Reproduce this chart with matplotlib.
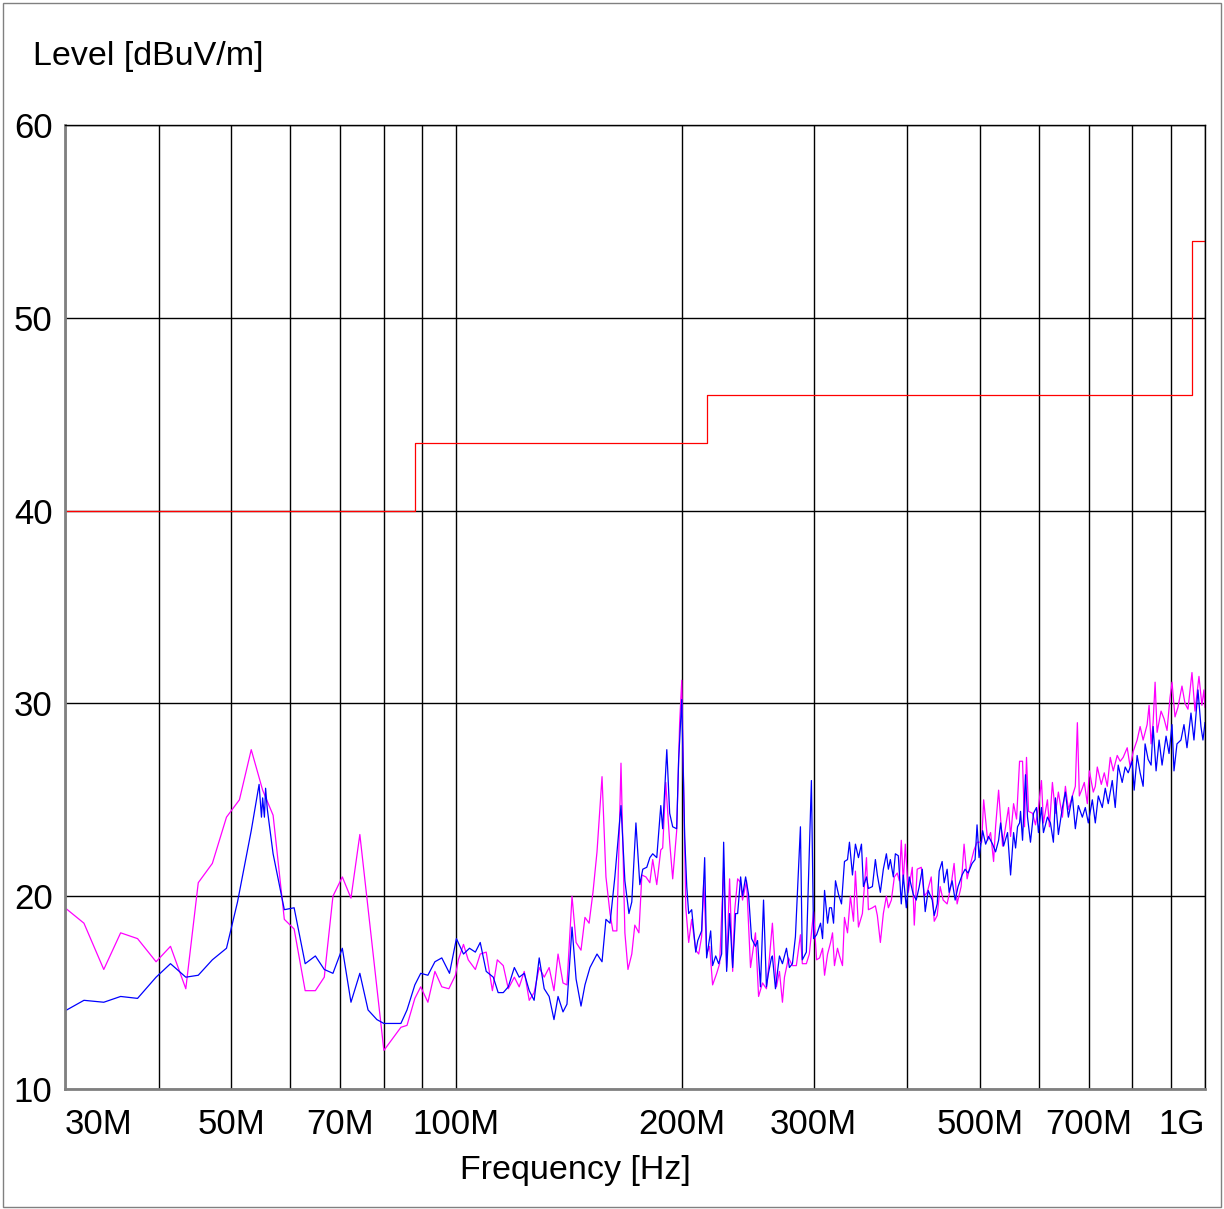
import matplotlib
matplotlib.use("Agg")
import matplotlib.pyplot as plt
from matplotlib.patches import Rectangle
import numpy as np

plt.rcParams["font.family"] = ["Liberation Sans", "DejaVu Sans"]

# limit line (dBuV/m), steps at 88 / 216 / 960 MHz
limit_freq = [30, 88, 216, 960, 1000]
limit_level = [40, 43.5, 46, 54, 54]

# blue trace
blue_freq = [
    30.0, 31.8, 33.8, 35.6, 37.5, 39.7, 41.5, 43.5, 45.2, 47.2, 49.3, 51.0, 53.2, 54.5,
    54.9, 55.1, 55.4, 55.6, 55.9, 56.9, 58.9, 60.7, 62.8, 64.8, 66.6, 68.4, 70.4, 72.3,
    74.3, 76.2, 78.3, 80.0, 82.0, 84.3, 85.9, 88.0, 89.6, 91.6, 93.6, 95.6, 97.9, 100.0,
    102.2, 104.1, 106.0, 107.6, 109.6, 112.0, 113.7, 115.5, 117.3, 119.5, 121.3, 123.2,
    125.1, 127.0, 129.0, 131.0, 133.0, 135.0, 136.7, 138.8, 140.5, 142.7, 144.5, 146.7,
    148.5, 150.8, 154.1, 156.5, 158.4, 160.4, 162.8, 165.9, 167.9, 170.0, 171.5, 173.7,
    175.8, 177.4, 179.6, 181.3, 182.9, 185.2, 187.5, 188.6, 191.0, 192.7, 194.5, 196.9,
    198.1, 200.0, 201.8, 203.1, 204.3, 206.2, 208.8, 210.1, 212.6, 214.6, 215.9, 218.6,
    219.9, 222.0, 224.0, 226.1, 227.5, 229.6, 231.7, 233.9, 236.0, 237.5, 239.7, 241.1,
    243.4, 245.6, 247.9, 250.9, 252.5, 254.8, 257.2, 259.5, 261.1, 263.5, 264.3, 266.8,
    270.1, 272.6, 276.0, 278.5, 281.1, 283.7, 288.1, 289.8, 293.4, 298.0, 300.0, 302.8,
    306.5, 308.4, 310.3, 313.2, 315.1, 317.0, 319.0, 320.9, 323.9, 326.9, 329.9, 333.0,
    335.0, 338.1, 341.2, 344.4, 347.6, 349.7, 353.0, 355.1, 359.5, 362.8, 365.0, 368.4,
    371.8, 375.3, 377.6, 379.9, 383.4, 385.8, 389.3, 392.9, 395.3, 399.0, 402.6, 407.6,
    411.4, 415.2, 419.1, 422.9, 426.8, 432.1, 434.8, 438.8, 441.5, 445.5, 448.3, 452.4,
    455.2, 459.4, 463.7, 467.9, 473.7, 478.1, 482.5, 488.5, 493.0, 496.0, 499.1, 504.6,
    509.3, 513.9, 520.3, 525.1, 530.0, 533.3, 538.2, 544.8, 549.9, 555.0, 558.4, 561.8,
    565.3, 567.0, 570.5, 575.7, 579.3, 584.6, 590.1, 595.5, 599.1, 604.7, 608.4, 615.9,
    621.6, 627.3, 631.2, 637.0, 644.9, 650.9, 656.9, 665.0, 671.1, 677.3, 685.7, 692.0,
    698.4, 707.1, 713.6, 720.2, 729.1, 735.8, 742.6, 751.8, 758.7, 765.7, 775.1, 782.3,
    789.6, 799.3, 804.2, 811.6, 819.1, 826.7, 831.7, 839.5, 847.2, 852.5, 860.3, 868.3,
    876.3, 887.1, 895.3, 903.5, 909.0, 917.4, 928.7, 937.4, 946.1, 957.8, 966.6, 978.6,
    987.6, 993.7, 1000.0,
]
blue_level = [
    14.05, 14.6, 14.5, 14.8, 14.7, 15.8, 16.5, 15.8, 15.9, 16.7, 17.3, 19.7, 23.4, 25.8,
    24.1, 25.1, 24.1, 25.6, 24.5, 22.2, 19.3, 19.4, 16.5, 16.9, 16.2, 16.0, 17.3, 14.5,
    16.0, 14.1, 13.6, 13.4, 13.4, 13.4, 14.1, 15.4, 16.0, 15.9, 16.6, 16.8, 16.0, 17.8,
    17.0, 17.3, 17.1, 17.6, 16.1, 15.8, 15.0, 15.0, 15.3, 16.3, 15.8, 16.0,
    15.1, 14.6, 16.8, 15.2, 14.8, 13.6, 14.8, 14.0, 14.4, 18.4, 15.7, 14.3,
    15.4, 16.3, 17.0, 16.6, 18.8, 18.6, 21.0, 24.7, 20.8, 19.1, 19.7, 23.8,
    20.6, 21.4, 21.5, 22.0, 22.2, 22.0, 24.7, 23.5, 27.6, 24.3, 23.6, 23.5,
    27.1, 30.2, 23.1, 20.5, 19.1, 19.3, 17.1, 17.7, 18.2, 22.0, 16.8, 18.2,
    16.4, 16.9, 16.5, 17.0, 22.8, 16.1, 19.1, 16.3, 19.1, 19.1, 21.0, 20.0,
    21.0, 20.1, 17.8, 17.4, 17.7, 15.3, 19.8, 15.3, 16.0, 16.8, 16.9, 15.2,
    16.9, 16.5, 17.3, 16.3, 16.5, 17.9, 23.6, 16.7, 17.1, 26.0, 17.8, 18.0,
    18.6, 17.8, 20.3, 18.6, 19.4, 19.4, 18.6, 20.8, 20.1, 19.6, 21.8, 21.9,
    22.8, 21.1, 22.7, 22.0, 22.7, 20.5, 21.0, 20.4, 20.5, 21.9, 21.1, 20.2,
    21.4, 22.2, 21.4, 21.9, 21.0, 22.2, 22.1, 19.6, 21.1, 19.4, 21.0, 20.1,
    19.8, 20.5, 21.4, 19.2, 20.3, 19.8, 19.0, 19.6, 21.3, 21.8, 20.7, 21.4,
    20.2, 20.8, 19.8, 20.5, 21.1, 21.4, 21.2, 21.7, 21.9, 23.7, 22.0, 23.4,
    22.7, 23.1, 22.7, 22.3, 22.9, 23.8, 22.6, 23.3, 21.1, 23.3, 22.5, 23.6,
    23.8, 24.4, 22.9, 26.3, 24.1, 22.8, 24.3, 24.6, 23.3, 24.6, 23.3, 24.1,
    23.8, 22.8, 25.1, 23.2, 24.6, 25.4, 24.1, 25.2, 23.5, 24.7, 24.1, 24.6,
    23.8, 25.0, 23.8, 25.2, 24.6, 25.6, 24.8, 26.0, 24.6, 26.8, 25.9, 26.7,
    26.4, 27.0, 25.5, 27.3, 26.4, 25.7, 27.9, 27.1, 26.8, 28.8, 26.5, 28.1,
    26.8, 28.3, 27.4, 28.9, 26.5, 27.9, 28.1, 28.9, 27.7, 29.5, 28.1, 30.7,
    28.8, 28.1, 29.0,
]

# magenta trace
magenta_freq = [
    30.0, 31.8, 33.8, 35.6, 37.5, 39.7, 41.5, 43.5, 45.2, 47.2, 49.3, 51.3, 53.2, 55.1,
    56.9, 58.9, 60.7, 62.8, 64.8, 66.6, 68.4, 70.4, 72.3, 74.3, 80.0, 84.3, 85.9, 88.0,
    89.6, 91.6, 93.6, 95.6, 97.7, 99.7, 100.6, 102.2, 103.7, 106.0, 107.6, 109.6, 111.7,
    113.4, 115.5, 117.3, 119.5, 121.3, 123.2, 125.1, 127.0, 129.0, 131.0, 133.0, 135.0,
    136.7, 138.8, 140.5, 142.7, 144.5, 146.7, 148.5, 150.4, 152.2, 154.1, 156.5, 158.4,
    160.4, 161.8, 163.8, 165.9, 167.9, 169.5, 171.5, 173.1, 175.3, 176.9, 179.1, 181.3,
    182.9, 185.2, 187.5, 188.6, 190.4, 192.7, 194.5, 196.9, 198.7, 200.0, 202.5, 204.3,
    206.2, 208.8, 210.7, 212.6, 214.0, 215.9, 217.9, 219.9, 222.7, 224.7, 227.5, 229.6,
    231.7, 233.9, 235.3, 237.5, 239.7, 241.1, 244.1, 247.1, 250.9, 253.3, 256.4, 259.5,
    261.9, 264.3, 267.6, 270.1, 272.6, 274.3, 277.7, 281.1, 284.5, 288.1, 289.8, 293.4,
    296.1, 300.0, 302.8, 305.6, 308.4, 310.3, 313.2, 316.1, 318.0, 319.9, 322.9, 324.9,
    327.9, 329.9, 333.0, 336.0, 339.2, 341.2, 344.4, 348.6, 353.0, 355.1, 359.5, 362.8,
    365.0, 368.4, 371.8, 375.3, 377.6, 381.1, 384.6, 388.1, 390.5, 392.9, 395.3, 397.8,
    401.4, 406.4, 408.9, 412.6, 417.8, 421.6, 425.5, 430.8, 434.8, 438.8, 442.8, 446.9,
    452.4, 458.0, 462.2, 466.5, 472.3, 476.6, 481.1, 487.0, 491.5, 496.0, 503.1, 506.2,
    512.4, 517.1, 521.9, 525.1, 530.0, 536.5, 541.5, 546.5, 549.9, 555.0, 560.1, 565.3,
    570.5, 574.0, 577.5, 581.1, 588.3, 593.7, 599.1, 604.7, 608.4, 615.9, 619.7, 625.4,
    631.2, 637.0, 644.9, 650.9, 656.9, 665.0, 671.1, 675.3, 679.4, 685.7, 689.9, 696.3,
    700.6, 709.2, 713.6, 718.0, 726.9, 733.6, 740.4, 747.2, 754.1, 763.4, 770.4, 777.5,
    787.2, 794.4, 801.7, 811.6, 819.1, 826.7, 836.9, 842.0, 847.2, 852.5, 857.7, 863.0,
    873.6, 881.7, 889.8, 898.0, 903.5, 911.8, 920.2, 931.6, 940.3, 949.0, 960.7, 969.6,
    981.6, 990.6, 996.7, 1000.0,
]
magenta_level = [
    19.4, 18.6, 16.2, 18.1, 17.8, 16.6, 17.4, 15.2, 20.7, 21.7, 24.1, 25.0, 27.6, 25.5,
    24.2, 18.8, 18.3, 15.1, 15.1, 15.8, 20.0, 21.0, 19.9, 23.2, 12.0, 13.2, 13.3, 14.7,
    15.3, 14.5, 16.1, 15.3, 15.2, 15.9, 16.7, 17.5, 16.7, 16.2, 17.0, 17.1, 15.1,
    16.7, 16.4, 15.2, 15.8, 15.3, 16.1, 14.6, 15.0, 16.3, 15.8, 16.3, 15.1,
    17.0, 15.5, 15.4, 20.0, 17.6, 17.2, 18.9, 18.6, 20.2, 22.3, 26.2, 21.0,
    19.1, 18.2, 18.2, 26.9, 18.1, 16.2, 17.0, 18.5, 18.1, 21.1, 21.0, 20.7,
    21.9, 20.6, 22.4, 22.5, 25.9, 22.8, 20.9, 23.4, 29.0, 31.2, 19.4, 17.6,
    18.8, 17.2, 17.0, 17.9, 20.8, 17.0, 17.4, 15.4, 16.0, 16.5, 21.5, 16.3,
    20.9, 16.1, 19.2, 20.9, 20.7, 19.8, 20.8, 16.3, 18.1, 14.8, 15.5, 15.2,
    16.8, 18.6, 15.3, 16.1, 14.5, 15.8, 16.8, 16.4, 16.4, 18.0, 16.5, 16.5,
    17.0, 19.2, 16.7, 16.8, 17.3, 15.9, 17.0, 17.6, 18.1, 16.4, 17.3, 16.9,
    16.4, 18.9, 18.1, 20.0, 18.7, 21.3, 18.4, 19.1, 22.0, 19.3, 19.4, 19.5,
    19.0, 17.6, 19.1, 20.0, 19.4, 19.8, 21.0, 21.2, 20.8, 22.9, 20.7, 22.7,
    20.2, 21.5, 18.5, 21.4, 21.5, 20.0, 20.2, 21.0, 18.7, 19.0, 20.5, 19.8,
    19.6, 20.6, 21.7, 19.6, 20.5, 22.7, 20.9, 21.8, 22.4, 22.8, 22.8, 25.0,
    22.9, 23.3, 21.8, 23.6, 25.5, 22.6, 23.6, 24.6, 23.1, 24.8, 24.0, 27.0,
    27.0, 23.6, 27.2, 24.4, 24.3, 23.7, 24.6, 26.0, 23.8, 25.0, 23.6, 25.9,
    24.3, 25.4, 24.1, 25.7, 24.5, 25.2, 25.7, 29.0, 25.2, 25.6, 25.9, 24.8,
    26.5, 25.4, 25.7, 26.7, 25.8, 26.4, 25.7, 27.2, 26.5, 27.3, 27.0, 27.2,
    27.7, 26.7, 27.5, 28.1, 28.8, 28.1, 28.9, 29.9, 27.9, 29.0, 31.1, 28.5,
    29.6, 29.2, 28.6, 30.3, 31.1, 29.3, 29.8, 30.9, 30.0, 29.7, 31.6, 29.6,
    31.4, 29.9, 30.7, 29.8,
]

label_ticks = [30, 50, 70, 100, 200, 300, 500, 700, 1000]
label_text = ["30M", "50M", "70M", "100M", "200M", "300M", "500M", "700M", "1G"]
grid_ticks = [40, 60, 80, 90, 400, 600, 800, 900]
y_ticks = [10, 20, 30, 40, 50, 60]

fig = plt.figure(figsize=(12.24, 12.09), dpi=100)
ax = fig.add_axes([65 / 1224, 1 - 1089 / 1209, 1140 / 1224, 964 / 1209])

ax.plot(limit_freq, limit_level, color="#FF0000", lw=0.9, drawstyle="steps-post")
ax.plot(magenta_freq, magenta_level, color="#FF00FF", lw=0.9)
ax.plot(blue_freq, blue_level, color="#0000FF", lw=0.9)

ax.set_xscale("log")
ax.set_xlim(30, 1000)
ax.set_ylim(10, 60)
ax.set_xticks(label_ticks)
ax.set_xticklabels(label_text)
ax.set_xticks(grid_ticks, minor=True)
ax.set_xticklabels([], minor=True)
ax.set_yticks(y_ticks)
ax.tick_params(axis="both", which="both", length=0, labelsize=25)
ax.tick_params(axis="x", pad=14)
ax.tick_params(axis="y", pad=9)
ax.grid(True, which="both", color="black", lw=1.0)
ax.set_axisbelow(True)

xl = ax.get_xticklabels()
xl[0].set_horizontalalignment("left")
xl[-1].set_horizontalalignment("right")

for s in ["left", "bottom"]:
    ax.spines[s].set_color("#808080")
    ax.spines[s].set_linewidth(2)
for s in ["top", "right"]:
    ax.spines[s].set_color("black")
    ax.spines[s].set_linewidth(1)

fig.text(33 / 1224, 1 - 57 / 1209, "Level [dBuV/m]", fontsize=24.5, va="center", ha="left")
fig.text(575 / 1224, 1 - 1170 / 1209, "Frequency [Hz]", fontsize=24.5, va="center", ha="center")

fig.patches.append(Rectangle((3 / 1224, 2 / 1209), 1218 / 1224, 1204 / 1209,
                             transform=fig.transFigure, fill=False,
                             edgecolor="#808080", lw=1))

fig.savefig("out.png", dpi=100)
